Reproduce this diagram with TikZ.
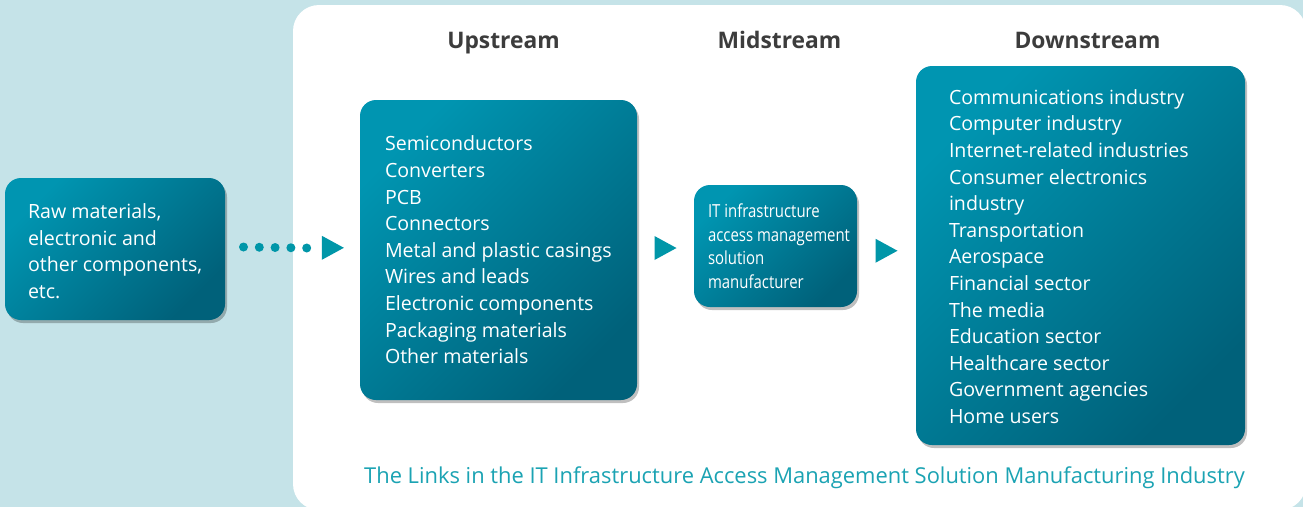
\documentclass[tikz,border=0pt]{standalone}
\usepackage{fontspec}
\setmainfont{Open Sans}
\newfontfamily\narrowfont[FakeStretch=0.83]{Open Sans}
\usetikzlibrary{shadows,calc}
\definecolor{bgblue}{HTML}{C5E3E8}
\definecolor{boxA}{HTML}{0095B1}
\definecolor{boxB}{HTML}{00617A}
\definecolor{arrowc}{HTML}{0096A8}
\definecolor{headc}{HTML}{3C3C3C}
\definecolor{capc}{HTML}{1BA3B3}
\tikzset{
  stagebox/.style={rounded corners=16pt, top color=boxA, bottom color=boxB, shading angle=45,
    drop shadow={shadow xshift=2pt, shadow yshift=-3pt, opacity=0.25, fill=black},
    inner sep=0pt},
  boxtext/.style={text=white, align=left, inner sep=0pt, anchor=west,
    font=\fontsize{19.6}{26.6}\selectfont},
  heading/.style={text=headc, font=\bfseries\fontsize{22.8}{26}\selectfont, inner sep=0pt, anchor=base},
  arrowfill/.style={fill=arrowc},
  dotline/.style={draw=arrowc, line width=9pt, line cap=round, dash pattern=on 0pt off 15.8pt},
}
\begin{document}
\begin{tikzpicture}[x=1pt,y=-1pt]
\useasboundingbox (0,0) rectangle (1303,507);
\fill[bgblue] (0,0) rectangle (1303,507);
\fill[white, rounded corners=26pt] (293,5) rectangle (1306,510);

\node[heading] (hup) at (503.5,48) {Upstream};
\node[heading] (hmid) at (779.5,48) {Midstream};
\node[heading] (hdown) at (1087.5,48) {Downstream};

\node[stagebox, minimum width=220pt, minimum height=142pt] (raw) at (115,249) {};
\node[boxtext] (rawt) at ($(raw.west)+(23,2)$)
  {Raw materials,\\electronic and\\other components,\\etc.};
\node[stagebox, minimum width=277pt, minimum height=300pt] (up) at (498.5,250) {};
\node[boxtext] (upt) at ($(up.west)+(25,0)$)
  {Semiconductors\\Converters\\PCB\\Connectors\\Metal and plastic casings\\Wires and leads\\Electronic components\\Packaging materials\\Other materials};
\node[stagebox, minimum width=163pt, minimum height=122pt] (mid) at (775.5,246) {};
\node[boxtext, font=\narrowfont\fontsize{18}{23.6}\selectfont] (midt) at ($(mid.west)+(14,0)$)
  {IT infrastructure\\access management\\solution\\manufacturer};
\node[stagebox, minimum width=329pt, minimum height=379pt] (down) at (1080.5,255.5) {};
\node[boxtext] (downt) at ($(down.west)+(33,1)$)
  {Communications industry\\Computer industry\\Internet-related industries\\Consumer electronics\\industry\\Transportation\\Aerospace\\Financial sector\\The media\\Education sector\\Healthcare sector\\Government agencies\\Home users};

\node[text=capc, font=\fontsize{21.9}{25}\selectfont, inner sep=0pt, anchor=base] (cap) at (804.5,483)
  {The Links in the IT Infrastructure Access Management Solution Manufacturing Industry};

% dotted connector raw -> upstream
\draw[dotline] ($(raw.east)+(18.3,-2)$) -- ($(up.west)+(-53,-2)$);
\path (raw.east) -- (up.west) coordinate[pos=0.8] (a1);
\fill[arrowfill] ($(a1)+(-11,-14)$) -- ($(a1)+(11,-2)$) -- ($(a1)+(-11,10)$) -- cycle;
% upstream -> midstream
\path (up.east) -- (mid.west) coordinate[midway] (a2);
\fill[arrowfill] ($(a2)+(-11,-12)$) -- ($(a2)+(11,0)$) -- ($(a2)+(-11,12)$) -- cycle;
% midstream -> downstream
\path (mid.east) -- (down.west) coordinate[midway] (a3);
\fill[arrowfill] ($(a3)+(-11,-12)$) -- ($(a3)+(11,0)$) -- ($(a3)+(-11,12)$) -- cycle;
\end{tikzpicture}
\end{document}
